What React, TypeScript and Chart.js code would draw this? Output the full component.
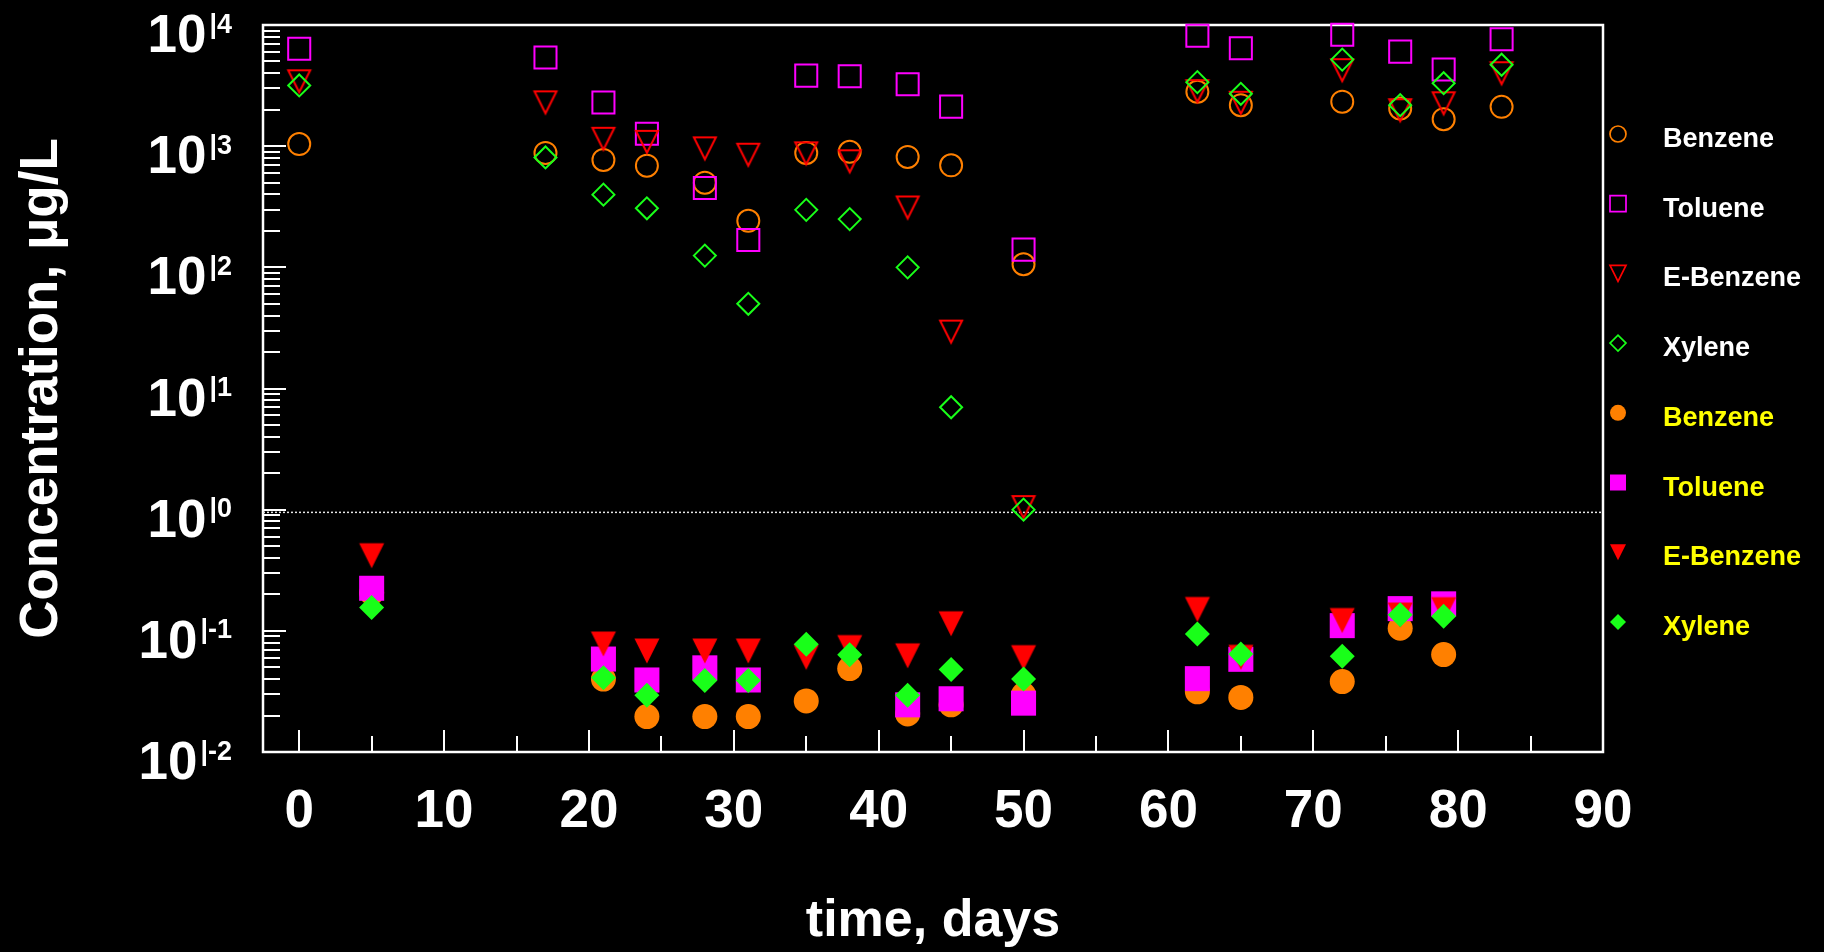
import React, { useEffect, useRef } from 'react';
import { Chart, registerables } from 'chart.js';

Chart.register(...registerables);

// ---------- data ----------
const DAYS_OPEN = [0, 17, 21, 24, 28, 31, 35, 38, 42, 45, 50, 62, 65, 72, 76, 79, 83];
const BENZENE_OPEN = [1040, 880, 770, 690, 500, 242, 880, 900, 815, 695, 106, 2810, 2180, 2330, 2050, 1670, 2110];
const TOLUENE_OPEN = [6370, 5390, 2290, 1265, 452, 168, 3820, 3780, 3240, 2120, 140, 8150, 6440, 8320, 6030, 4300, 7640];
const EBENZENE_OPEN = [3430, 2300, 1150, 1085, 960, 850, 873, 750, 312, 29.5, 1.05, 2845, 2280, 4240, 1980, 2260, 4000];
const XYLENE_OPEN = [3170, 807, 398, 307, 125, 50, 298, 250, 100, 7.0, 1.0, 3375, 2705, 5180, 2180, 3310, 4700];

const DAYS_FILLED = [5, 21, 24, 28, 31, 35, 38, 42, 45, 50, 62, 65, 72, 76, 79];
const BENZENE_FILLED = [0.206, 0.04, 0.0196, 0.0196, 0.0196, 0.0264, 0.0488, 0.0206, 0.0245, 0.0298, 0.0314, 0.0282, 0.0381, 0.105, 0.0637];
const TOLUENE_FILLED = [0.2245, 0.0585, 0.0393, 0.0495, 0.0393, null, null, 0.0245, 0.0275, 0.0253, 0.0403, 0.0582, 0.1104, 0.1525, 0.167];
const EBENZENE_FILLED = [0.417, 0.0778, 0.0681, 0.0681, 0.0681, 0.0604, 0.0727, 0.0622, 0.1143, 0.0601, 0.15, 0.0604, 0.1216, 0.135, 0.1496];
const XYLENE_FILLED = [0.156, 0.041, 0.0294, 0.039, 0.039, 0.0774, 0.0634, 0.0294, 0.048, 0.04, 0.0941, 0.0644, 0.0617, 0.136, 0.1318];

const X_MIN = -2.5;
const X_MAX = 90;
const Y_MIN = 0.01;
const Y_MAX = 10000;
const X_TICKS = [0, 10, 20, 30, 40, 50, 60, 70, 80, 90];
const X_MINOR_TICKS = [5, 15, 25, 35, 45, 55, 65, 75, 85];
const Y_EXPONENTS = [-2, -1, 0, 1, 2, 3, 4];
const Y_MINOR_MULTIPLIERS = [2, 3, 4, 5, 6, 7, 8, 9];
const DETECTION_LIMIT = 0.95;

const LEGEND_LABELS = ['Benzene', 'Toluene', 'E-Benzene', 'Xylene', 'Benzene', 'Toluene', 'E-Benzene', 'Xylene'];
const LEGEND_KINDS = ['circle', 'square', 'triangle', 'diamond', 'circle', 'square', 'triangle', 'diamond'];
const LEGEND_FILLED = [false, false, false, false, true, true, true, true];

const ORANGE = '#ff8000';
const MAGENTA = '#ff00ff';
const RED = '#ff0000';
const GREEN = '#19ff19';
const SERIES_COLORS = [ORANGE, MAGENTA, RED, GREEN, ORANGE, MAGENTA, RED, GREEN];
const FONT = '"Liberation Sans", Arial, Helvetica, sans-serif';

const toPoints = (days: number[], vals: (number | null)[]) =>
  days
    .map((d, i) => ({ x: d, y: vals[i] }))
    .filter((p) => p.y !== null && p.y !== undefined);

function makeTriangle(color: string, filled: boolean): HTMLCanvasElement {
  const c = document.createElement('canvas');
  c.width = 28;
  c.height = 28;
  const g = c.getContext('2d')!;
  g.beginPath();
  if (filled) {
    g.moveTo(1.5, 1.5);
    g.lineTo(26.5, 1.5);
    g.lineTo(14, 26.5);
    g.closePath();
    g.fillStyle = color;
    g.fill();
  } else {
    g.moveTo(3, 3);
    g.lineTo(25, 3);
    g.lineTo(14, 25);
    g.closePath();
    g.lineWidth = 2;
    g.strokeStyle = color;
    g.stroke();
  }
  return c;
}

function drawLegendMarker(ctx: CanvasRenderingContext2D, kind: string, x: number, y: number, color: string, filled: boolean) {
  const h = 8;
  ctx.save();
  ctx.beginPath();
  if (kind === 'circle') {
    ctx.arc(x, y, h, 0, Math.PI * 2);
  } else if (kind === 'square') {
    ctx.rect(x - h, y - h, 2 * h, 2 * h);
  } else if (kind === 'triangle') {
    ctx.moveTo(x - h, y - h);
    ctx.lineTo(x + h, y - h);
    ctx.lineTo(x, y + h);
    ctx.closePath();
  } else {
    ctx.moveTo(x - h, y);
    ctx.lineTo(x, y - h);
    ctx.lineTo(x + h, y);
    ctx.lineTo(x, y + h);
    ctx.closePath();
  }
  if (filled) {
    ctx.fillStyle = color;
    ctx.fill();
  } else {
    ctx.lineWidth = 1.7;
    ctx.strokeStyle = color;
    ctx.stroke();
  }
  ctx.restore();
}

const decorPlugin = {
  id: 'decor',
  beforeDraw(chart: any) {
    const ctx = chart.ctx;
    ctx.save();
    ctx.fillStyle = '#000000';
    ctx.fillRect(0, 0, chart.width, chart.height);
    ctx.restore();
  },
  beforeDatasetsDraw(chart: any) {
    const ctx = chart.ctx as CanvasRenderingContext2D;
    const { left, right, top, bottom } = chart.chartArea;
    const xs = chart.scales.x;
    const ys = chart.scales.y;
    ctx.save();
    ctx.strokeStyle = '#ffffff';
    ctx.lineWidth = 2;
    // ticks on x axis (inward)
    X_TICKS.forEach((v) => {
      const px = Math.round(xs.getPixelForValue(v));
      ctx.beginPath();
      ctx.moveTo(px, bottom);
      ctx.lineTo(px, bottom - 22);
      ctx.stroke();
    });
    X_MINOR_TICKS.forEach((v) => {
      const px = Math.round(xs.getPixelForValue(v));
      ctx.beginPath();
      ctx.moveTo(px, bottom);
      ctx.lineTo(px, bottom - 16);
      ctx.stroke();
    });
    // ticks on y axis (inward)
    Y_EXPONENTS.forEach((k) => {
      const py = Math.round(ys.getPixelForValue(Math.pow(10, k)));
      ctx.beginPath();
      ctx.moveTo(left, py);
      ctx.lineTo(left + 23, py);
      ctx.stroke();
      if (k < Y_EXPONENTS[Y_EXPONENTS.length - 1]) {
        Y_MINOR_MULTIPLIERS.forEach((m) => {
          const pm = Math.round(ys.getPixelForValue(m * Math.pow(10, k)));
          ctx.beginPath();
          ctx.moveTo(left, pm);
          ctx.lineTo(left + 17, pm);
          ctx.stroke();
        });
      }
    });
    // frame
    ctx.lineWidth = 2.5;
    ctx.strokeRect(left, top, right - left, bottom - top);
    ctx.restore();
  },
  afterDraw(chart: any) {
    const ctx = chart.ctx as CanvasRenderingContext2D;
    const ys = chart.scales.y;
    ctx.save();
    ctx.fillStyle = '#ffffff';
    ctx.textBaseline = 'alphabetic';
    ctx.textAlign = 'right';
    Y_EXPONENTS.forEach((k) => {
      const py = ys.getPixelForValue(Math.pow(10, k));
      const sup = '|' + String(k);
      ctx.font = `bold 27px ${FONT}`;
      const supW = ctx.measureText(sup).width;
      ctx.fillText(sup, 232, py + 7.5);
      ctx.font = `bold 53px ${FONT}`;
      ctx.fillText('10', 232 - supW - 3, py + 27);
    });
    // legend
    ctx.textAlign = 'left';
    ctx.font = `bold 27px ${FONT}`;
    LEGEND_LABELS.forEach((label, i) => {
      const y = 134 + i * 69.7;
      drawLegendMarker(ctx, LEGEND_KINDS[i], 1618, y, SERIES_COLORS[i], LEGEND_FILLED[i]);
      ctx.fillStyle = LEGEND_FILLED[i] ? '#ffff00' : '#ffffff';
      ctx.fillText(label, 1663, y + 13);
    });
    ctx.restore();
  },
};

export default function App() {
  const ref = useRef<HTMLCanvasElement | null>(null);

  useEffect(() => {
    if (!ref.current) return;
    const triOpen = makeTriangle(RED, false);
    const triFilled = makeTriangle(RED, true);

    const openBase = { backgroundColor: 'transparent', borderWidth: 2, clip: false as any };
    const filledBase = { borderWidth: 0, clip: false as any };

    const chart = new Chart(ref.current, {
      type: 'scatter',
      data: {
        datasets: [
          {
            label: 'detection limit',
            data: [
              { x: X_MIN, y: DETECTION_LIMIT },
              { x: X_MAX, y: DETECTION_LIMIT },
            ],
            showLine: true,
            borderColor: '#e6e6e6',
            borderWidth: 1.5,
            borderDash: [2, 2],
            pointRadius: 0,
            order: 9,
          } as any,
          { ...openBase, label: 'Benzene', data: toPoints(DAYS_OPEN, BENZENE_OPEN), pointStyle: 'circle', pointRadius: 11, borderColor: ORANGE, order: 8 },
          { ...openBase, label: 'Toluene', data: toPoints(DAYS_OPEN, TOLUENE_OPEN), pointStyle: 'rect', pointRadius: 15.6, borderColor: MAGENTA, order: 7 },
          { ...openBase, label: 'E-Benzene', data: toPoints(DAYS_OPEN, EBENZENE_OPEN), pointStyle: triOpen, pointRadius: 12, borderColor: RED, order: 6 },
          { ...openBase, label: 'Xylene', data: toPoints(DAYS_OPEN, XYLENE_OPEN), pointStyle: 'rectRot', pointRadius: 11, borderColor: GREEN, order: 5 },
          { ...filledBase, label: 'Benzene (filled)', data: toPoints(DAYS_FILLED, BENZENE_FILLED), pointStyle: 'circle', pointRadius: 12.5, backgroundColor: ORANGE, borderColor: ORANGE, order: 4 },
          { ...filledBase, label: 'Toluene (filled)', data: toPoints(DAYS_FILLED, TOLUENE_FILLED), pointStyle: 'rect', pointRadius: 17.7, backgroundColor: MAGENTA, borderColor: MAGENTA, order: 3 },
          { ...filledBase, label: 'E-Benzene (filled)', data: toPoints(DAYS_FILLED, EBENZENE_FILLED), pointStyle: triFilled, pointRadius: 12.5, backgroundColor: RED, borderColor: RED, order: 2 },
          { ...filledBase, label: 'Xylene (filled)', data: toPoints(DAYS_FILLED, XYLENE_FILLED), pointStyle: 'rectRot', pointRadius: 12.5, backgroundColor: GREEN, borderColor: GREEN, order: 1 },
        ] as any,
      },
      options: {
        responsive: false,
        animation: false,
        events: [],
        layout: { padding: { top: 25, right: 221, bottom: 0, left: 0 } },
        plugins: {
          legend: { display: false },
          tooltip: { enabled: false },
        },
        scales: {
          x: {
            type: 'linear',
            min: X_MIN,
            max: X_MAX,
            afterBuildTicks: (s: any) => {
              s.ticks = X_TICKS.map((v) => ({ value: v }));
            },
            afterFit: (s: any) => {
              s.height = 200;
            },
            grid: { display: false, drawTicks: false },
            border: { display: false },
            ticks: {
              color: '#ffffff',
              padding: 34,
              maxRotation: 0,
              autoSkip: false,
              font: { family: FONT, size: 53, weight: 'bold', lineHeight: 1 },
            },
            title: {
              display: true,
              text: 'time, days',
              color: '#ffffff',
              font: { family: FONT, size: 52, weight: 'bold', lineHeight: 1 },
              padding: { top: 0, bottom: 4 },
            },
          },
          y: {
            type: 'logarithmic',
            min: Y_MIN,
            max: Y_MAX,
            afterFit: (s: any) => {
              s.width = 263;
            },
            grid: { display: false, drawTicks: false },
            border: { display: false },
            ticks: { display: false },
            title: {
              display: true,
              text: 'Concentration, μg/L',
              color: '#ffffff',
              font: { family: FONT, size: 53, weight: 'bold', lineHeight: 1 },
              padding: { top: 16, bottom: 0 },
            },
          },
        } as any,
      },
      plugins: [decorPlugin],
    });
    return () => chart.destroy();
  }, []);

  return (
    <div style={{ position: 'fixed', left: 0, top: 0, width: 1824, height: 952, background: '#000000' }}>
      <canvas ref={ref} width={1824} height={952} style={{ display: 'block' }} />
    </div>
  );
}
